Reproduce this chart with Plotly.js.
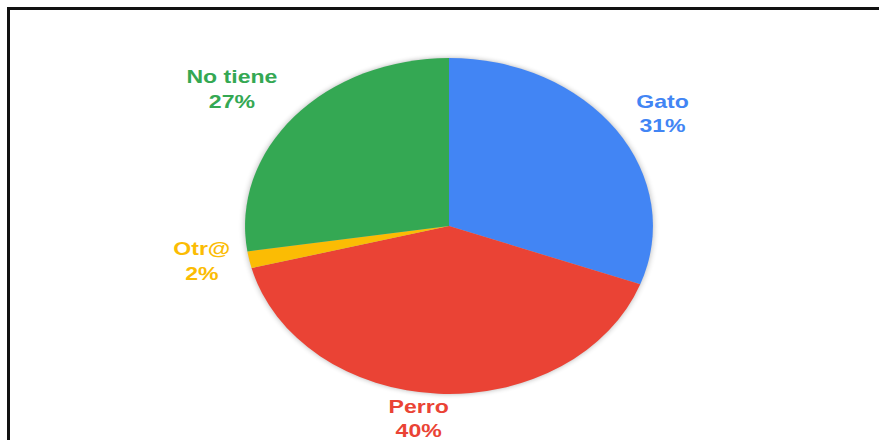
<!DOCTYPE html>
<html>
<head>
<meta charset="utf-8">
<script src="https://cdn.plot.ly/plotly-3.0.1.min.js"></script>
<style>
  html, body { margin: 0; padding: 0; background: #fff; }
  #wrap { position: relative; width: 879px; height: 440px; overflow: hidden; }
  #chart { width: 879px; height: 440px; }
  #frame { position: absolute; left: 7px; top: 7px; width: 900px; height: 500px;
           border-left: 3px solid #111; border-top: 3px solid #111; pointer-events: none; }
</style>
</head>
<body>
<div id="wrap">
  <div id="chart"></div>
  <div id="frame"></div>
</div>
<script>
const labels = ['Gato', 'Perro', 'Otr@', 'No tiene'];
const values = [19, 25, 1, 17];
const colors = ['#4285F4', '#EA4335', '#FBBC04', '#34A853'];

const SX = 1.214; // horizontal stretch of the whole picture
// small nudges of the outside labels (screen px), to mimic the original label placement
const labelNudge = [[6, -9], [24, 2], [-5, 0], [-3, -18]];

const trace = {
  type: 'pie',
  labels: labels,
  values: values,
  sort: false,
  direction: 'clockwise',
  rotation: 0,
  marker: { colors: colors, line: { width: 0 } },
  textposition: 'outside',
  texttemplate: '%{label}<br>%{percent:.0%}',
  outsidetextfont: { family: 'Liberation Sans, Arial, sans-serif', size: 19, color: colors, weight: 'bold' },
  hoverinfo: 'none',
  showlegend: false,
  domain: { x: [0, 1], y: [0, 1] }
};

const layout = {
  width: 879, height: 440,
  margin: { l: 19, r: 0, t: 58, b: 46 },
  paper_bgcolor: '#fff',
  plot_bgcolor: '#fff',
  showlegend: false
};

Plotly.newPlot('chart', [trace], layout, { displayModeBar: false, staticPlot: true }).then(function (gd) {
  const NS = 'http://www.w3.org/2000/svg';
  const cd0 = gd.calcdata[0][0];
  const cx = cd0.cx, cy = cd0.cy;
  const tr = 'translate(' + cx + ',' + cy + ') scale(' + SX + ',1) translate(' + (-cx) + ',' + (-cy) + ')';
  const g = gd.querySelector('.pielayer g.trace');
  const old = g.getAttribute('transform') || '';
  g.setAttribute('transform', tr + ' ' + old);

  g.querySelectorAll('g.slice').forEach(function (s, i) {
    const t = s.querySelector('text.slicetext');
    if (!t) return;
    const n = labelNudge[i] || [0, 0];
    const o = t.getAttribute('transform') || '';
    t.setAttribute('transform', 'translate(' + (n[0] / SX) + ',' + n[1] + ') ' + o);
  });

  // soft shadow behind the slices
  const svg = gd.querySelector('svg.main-svg');
  let defs = svg.querySelector('defs');
  if (!defs) { defs = document.createElementNS(NS, 'defs'); svg.insertBefore(defs, svg.firstChild); }
  const f = document.createElementNS(NS, 'filter');
  f.setAttribute('id', 'pieShadow');
  f.setAttribute('x', '-20%'); f.setAttribute('y', '-20%');
  f.setAttribute('width', '140%'); f.setAttribute('height', '140%');
  f.innerHTML = '<feGaussianBlur in="SourceAlpha" stdDeviation="2.5"/>' +
    '<feOffset dx="0" dy="0" result="b"/>' +
    '<feComponentTransfer><feFuncA type="linear" slope="0.3"/></feComponentTransfer>';
  defs.appendChild(f);
  const sh = document.createElementNS(NS, 'g');
  sh.setAttribute('transform', g.getAttribute('transform'));
  sh.setAttribute('filter', 'url(#pieShadow)');
  g.querySelectorAll('path.surface').forEach(function (p) {
    const c = p.cloneNode(true);
    c.style.fill = '#000';
    sh.appendChild(c);
  });
  g.parentNode.insertBefore(sh, g);
});
</script>
</body>
</html>
